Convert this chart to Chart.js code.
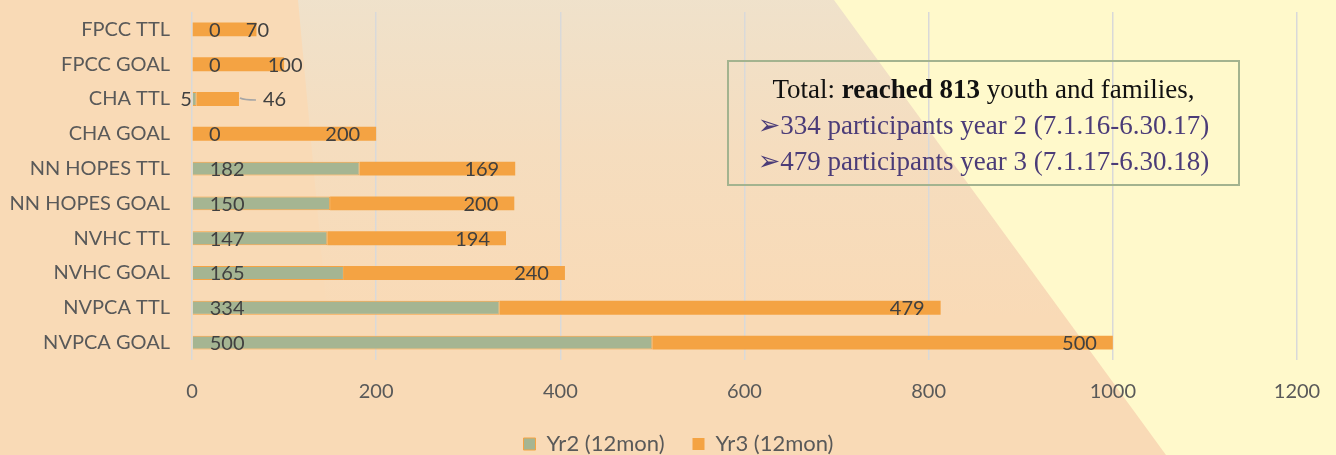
<!DOCTYPE html>
<html>
<head>
<meta charset="utf-8">
<script src="https://cdn.jsdelivr.net/npm/chart.js@4.4.1/dist/chart.umd.min.js"></script>
<style>
  html, body { margin: 0; padding: 0; }
  body { width: 1336px; height: 455px; overflow: hidden; position: relative; background: #F9DAB6; }
  .tint { position: absolute; left: 0; top: 0; width: 1336px; height: 455px;
          background: linear-gradient(to bottom, rgba(236,228,210,0.75) 0px, rgba(236,228,210,0.3) 150px, rgba(236,228,210,0) 320px);
          clip-path: polygon(298px 0, 840px 0, 1170px 455px, 340px 455px); }
  .yellow { position: absolute; left: 0; top: 0; width: 1336px; height: 455px; background: #FFF9CB;
          clip-path: polygon(834px 0, 1336px 0, 1336px 455px, 1166px 455px); }
  .wrap { position: absolute; left: 0; top: 0; width: 1336px; height: 465px; }
  .note { position: absolute; left: 727px; top: 60px; width: 513px; height: 126px;
          border: 2px solid #A3B38F; text-align: center;
          font-family: "Liberation Serif", "DejaVu Serif", serif; font-size: 27px; line-height: 36px;
          padding-top: 9px; box-sizing: border-box; white-space: nowrap; }
  .note .l1 { color: #111; }
  .note .l2 { color: #4B3C78; }
  .arr { font-family: "DejaVu Sans", sans-serif; font-size: 27px; }
</style>
</head>
<body>
<div class="tint"></div>
<div class="yellow"></div>
<div class="wrap"><canvas id="myChart"></canvas></div>
<div class="note">
  <div class="l1">Total: <b>reached 813</b> youth and families,</div>
  <div class="l2"><span class="arr">&#x27A2;</span>334 participants year 2 (7.1.16-6.30.17)</div>
  <div class="l2"><span class="arr">&#x27A2;</span>479 participants year 3 (7.1.17-6.30.18)</div>
</div>
<script>
// categories, top to bottom as in the picture
var categorias = ['FPCC TTL', 'FPCC GOAL', 'CHA TTL', 'CHA GOAL', 'NN HOPES TTL', 'NN HOPES GOAL',
                  'NVHC TTL', 'NVHC GOAL', 'NVPCA TTL', 'NVPCA GOAL'];
var yr2 = [0, 0, 5, 0, 182, 150, 147, 165, 334, 500];
var yr3 = [70, 100, 46, 200, 169, 200, 194, 240, 479, 500];
var ticksX = [0, 200, 400, 600, 800, 1000, 1200];

var fuente = 'Lato, "Liberation Sans", sans-serif';

// data labels, more or less where Excel put them
var etiquetas = {
  id: 'etiquetas',
  afterDatasetsDraw: function(chart){
    var ctx = chart.ctx;
    ctx.save();
    ctx.font = '20px ' + fuente;
    ctx.fillStyle = '#404040';
    ctx.textBaseline = 'middle';
    chart.data.datasets.forEach(function(ds, i){
      var meta = chart.getDatasetMeta(i);
      meta.data.forEach(function(bar, j){
        var txt = String(ds.data[j]);
        var tw = ctx.measureText(txt).width;
        var largo = bar.x - bar.base;
        var y = bar.y + 1;
        if (i === 0) {
          if (ds.data[j] > 0 && largo < tw + 10) {
            ctx.textAlign = 'right';
            ctx.fillText(txt, bar.base - 1, y);
          } else {
            ctx.textAlign = 'left';
            ctx.fillText(txt, bar.base + 17, y);
          }
        } else {
          if (largo < tw * 2) {
            // label pulled outside with a leader line
            ctx.strokeStyle = '#A6A6A6';
            ctx.lineWidth = 1.5;
            ctx.beginPath();
            ctx.moveTo(bar.x + 1, y - 2);
            ctx.quadraticCurveTo(bar.x + 5, y, bar.x + 17, y);
            ctx.stroke();
            ctx.textAlign = 'left';
            ctx.fillText(txt, bar.x + 24, y);
          } else if (largo < tw * 3) {
            ctx.textAlign = 'center';
            ctx.fillText(txt, bar.x + 1, y);
          } else {
            ctx.textAlign = 'right';
            ctx.fillText(txt, bar.x - 16, y);
          }
        }
      });
    });
    ctx.restore();
  }
};

// move the legend a little to the right, like the original
var correrLeyenda = {
  id: 'correrLeyenda',
  afterLayout: function(chart){
    if (chart.legend) { chart.legend.left += 30; chart.legend.right += 30; }
  }
};

var ctx = document.getElementById('myChart').getContext('2d');
var myChart = new Chart(ctx, {
  type: 'bar',
  data: {
    labels: categorias,
    datasets: [{
      label: 'Yr2 (12mon)',
      data: yr2,
      backgroundColor: '#A5B592',
      borderColor: '#F4A343',
      borderWidth: 1,
      barPercentage: 0.4,
      categoryPercentage: 1
    }, {
      label: 'Yr3 (12mon)',
      data: yr3,
      backgroundColor: '#F4A343',
      borderColor: '#F4A343',
      borderWidth: 0,
      barPercentage: 0.4,
      categoryPercentage: 1
    }]
  },
  options: {
    indexAxis: 'y',
    responsive: true,
    maintainAspectRatio: false,
    animation: false,
    layout: { padding: { top: 12, right: 39, left: 0, bottom: 0 } },
    plugins: {
      legend: {
        position: 'bottom',
        labels: { boxWidth: 12, boxHeight: 12, padding: 28, color: '#595959', font: { family: fuente, size: 22 } }
      },
      tooltip: { enabled: false }
    },
    scales: {
      x: {
        stacked: true, min: 0, max: 1200,
        afterBuildTicks: function(s){ s.ticks = ticksX.map(function(v){ return {value: v}; }); },
        ticks: { padding: 20, color: '#595959', font: { family: fuente, size: 20 },
                 callback: function(v){ return String(v); } },
        grid: { color: '#D9D9D9', lineWidth: 1.5, drawTicks: false },
        border: { display: false },
        afterFit: function(s){ s.height = 45; s.paddingLeft = 0; s.paddingRight = 0; }
      },
      y: {
        stacked: true,
        ticks: { padding: 22, color: '#595959', font: { family: fuente, size: 20 } },
        grid: { display: false, drawTicks: false },
        border: { display: false },
        afterFit: function(s){ s.width = 192; s.paddingTop = 0; s.paddingBottom = 0; }
      }
    }
  },
  plugins: [etiquetas, correrLeyenda]
});
</script>
</body>
</html>
